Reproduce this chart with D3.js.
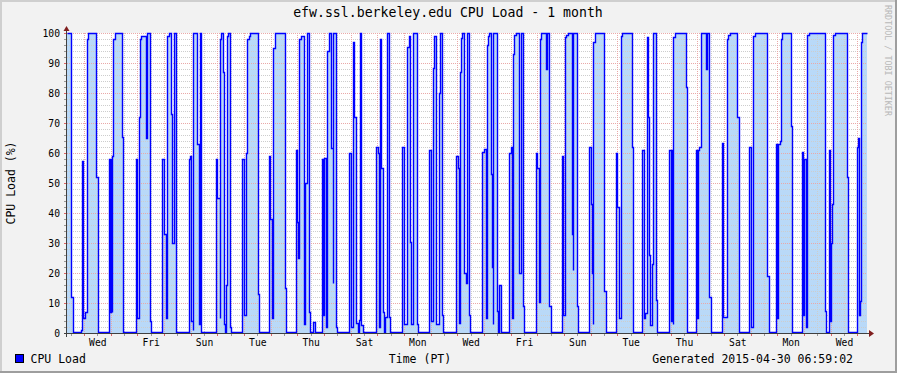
<!DOCTYPE html>
<html>
<head>
<meta charset="utf-8">
<script src="https://cdn.jsdelivr.net/npm/d3@7"></script>
<style>
  body { margin: 0; background: #f2f2f2; }
  svg { display: block; font-family: "DejaVu Sans Mono", monospace; }
</style>
</head>
<body>
<script>
// step series: hours since the window start, and the load from that moment on
const hoursFromStart = [
  0, 3.9, 5.1, 12.9, 13.8, 14.7, 15.9, 17.7, 18.3, 19.2, 26.4, 27.6,
  37.8, 38.7, 39.3, 40.2, 40.8, 41.4, 42.9, 49.8, 50.7,
  62.4, 63.3, 64.5, 65.7, 66.9, 71.4, 72.3, 74.4, 75.3,
  85.8, 87, 89.1, 90.3, 91.5, 93.9, 94.8, 96.3, 98.4,
  109.8, 110.7, 111.9, 113.1, 113.7, 117.3, 118.5, 118.8, 119.7, 121,
  134.4, 135.3, 137.4, 138, 138.9, 140.1, 141, 141.9, 143.1, 144, 144.9, 146.7, 147.3,
  157.8, 159, 161.4, 162.3, 163.5, 164.4, 171.9, 172.5,
  181.8, 182.7, 184.5, 185.7, 186.9, 195.9, 197.1,
  206.4, 207.3, 208.2, 209.1, 210.3, 213.3, 214.5, 215.7, 217.5, 218.7, 221.4, 222.9,
  229.8, 230.7, 231.3, 233.4, 234.3, 235.5, 237.9, 239.1, 239.7, 242.1, 243.3,
  254.1, 255.9, 257.4, 258.6, 260.4, 261.6, 262.8, 264, 264.9, 266.1,
  278.4, 279.6, 280.8, 282, 282.9, 284.1, 285.3, 286.5, 288, 289.5, 291,
  301.5, 303.6, 306.3, 307.5, 308.7, 309.9, 311.1, 311.7, 314.7, 315.9,
  326.1, 327.9, 329.4, 330.3, 332.1, 334.5, 335.1, 336, 337.5, 338.7,
  350.1, 351.6, 352.5, 353.1, 353.7, 354.9, 355.5, 357, 358.8, 360.3, 362.1, 363,
  373.5, 375.6, 377.1, 378, 378.9, 380.1, 381.3, 382.5, 383.1, 383.7, 386.7, 387.6, 389.1, 390.3,
  398.1, 399.6, 400.5, 401.4, 402.6, 404.1, 407.1, 408.3, 410.1, 411.3,
  422.1, 423.3, 424.5, 425.7, 426.9, 431.1, 432.3, 434.1, 435.3,
  445.5, 446.7, 447.9, 449.1, 450.6, 454.5, 455.1, 455.7, 458.7, 459.6,
  470.1, 471.3, 472.5, 473.1, 473.7, 474.9, 483.3, 485.1,
  494.1, 495.3, 497.1, 498.3, 499.2, 508.2, 509.1,
  517.8, 519, 519.9, 521.7, 523.2, 524.1, 525, 526.5, 527.7, 530.1, 531.3,
  542.1, 543.3, 544.2, 545.4, 545.7, 546.9, 557.1, 558.3,
  566.1, 567.3, 568.2, 569.1, 570.3, 575.1, 576.3, 578.1, 579.3,
  589.5, 590.7, 593.7, 594.9, 596.7, 603.3, 604.5,
  613.8, 615.3, 617.7, 618.9, 630.3, 631.5,
  638.1, 639.3, 640.2, 641.4, 642.3, 643.2, 651.3, 652.2,
  661.8, 662.7, 663.3, 665.1, 666.3, 667.8, 681.9, 683.1,
  685.8, 687, 687.9, 688.8, 689.7, 690.9, 701.7, 702.6,
  710.7, 711.6, 712.5, 713.4, 714.3, 715.5, 720
];
const cpuLoad = [
  100, 12, 0.3, 1, 57.5, 5, 7, 11, 98, 100, 52, 0.3,
  58, 7, 58, 7, 59, 98, 100, 65.5, 0.3,
  58, 5, 72, 98, 99, 65, 100, 4, 0.3,
  58, 33, 5, 99, 100, 73, 30, 100, 0.3,
  58, 59, 4, 1, 100, 63, 10, 3, 100, 0.3,
  58, 45, 5, 98, 100, 87, 3, 0.3, 16, 99, 100, 2, 0.3,
  58, 6, 60, 98, 99, 100, 13, 0.3,
  59, 38, 5, 95, 100, 15, 0.3,
  61, 37, 25, 98, 99, 3, 50, 100, 7, 0.3, 3.7, 0.3,
  58, 6, 58.5, 2, 94, 100, 61.7, 16.7, 100, 2, 0.3,
  60, 2, 97, 72, 3.3, 0.3, 4.4, 100, 2.8, 0.3,
  62, 60, 2, 98, 55, 7, 0.3, 5.5, 100, 5.5, 0.3,
  62, 3, 95.5, 99, 30.5, 3, 7.8, 100, 3, 0.3,
  61, 4, 88.5, 99, 3, 17, 80, 100, 6, 0.3,
  59, 55, 8, 3.3, 87, 98.3, 100, 20, 16.7, 100, 6, 0.3,
  60.5, 61.5, 5, 96, 99, 100, 53, 22, 3, 100, 7.4, 0.3, 16, 0.3,
  60, 62, 5, 93, 99.4, 100, 20, 100, 9, 0.3,
  60, 55, 10.5, 98, 100, 88, 100, 9, 0.3,
  59, 6, 98.6, 99.4, 100, 33, 21, 100, 9, 0.3,
  62, 43, 20, 3, 97, 100, 14, 0.3,
  60, 42, 5, 99, 100, 62, 0.3,
  61, 5, 6.7, 98.6, 72, 26, 2.8, 23, 100, 11, 0.3,
  61, 4, 61, 3, 98.6, 100, 82, 0.3,
  61, 5, 61, 62, 100, 88, 100, 12, 0.3,
  63.5, 5.5, 98, 99.4, 100, 72, 0.3,
  62, 2, 99, 100, 19, 0.3,
  63, 5, 63, 64, 98, 100, 69, 0.3,
  60.5, 6, 58, 2, 99.4, 100, 7.2, 0.3,
  61, 4, 30, 43, 99.4, 100, 52, 0.3,
  62, 65, 6, 10.6, 97, 100, 100
];
const yTickValues = [0, 10, 20, 30, 40, 50, 60, 70, 80, 90, 100];
const labelDays = ['2015-04-01', '2015-04-03', '2015-04-05', '2015-04-07', '2015-04-09',
  '2015-04-11', '2015-04-13', '2015-04-15', '2015-04-17', '2015-04-19', '2015-04-21',
  '2015-04-23', '2015-04-25', '2015-04-27', '2015-04-29'];
const dayLabels = ['Wed', 'Fri', 'Sun', 'Tue', 'Thu', 'Sat', 'Mon', 'Wed', 'Fri', 'Sun',
  'Tue', 'Thu', 'Sat', 'Mon', 'Wed'];

const windowStart = new Date('2015-03-31T08:42:00Z');
const windowEnd = new Date(+windowStart + 720 * 3600e3);

const width = 897, height = 373;
const plot = {left: 67, right: 867, top: 33, bottom: 333};
const px = v => Math.round(v) + 0.5;

const svg = d3.select('body').append('svg')
  .attr('width', width)
  .attr('height', height);

// background and shaded border
svg.append('rect').attr('width', width).attr('height', height).attr('fill', '#f2f2f2');
svg.append('rect').attr('x', 0).attr('y', 0).attr('width', width).attr('height', 2).attr('fill', '#cfcfcf');
svg.append('rect').attr('x', 0).attr('y', 0).attr('width', 2).attr('height', height).attr('fill', '#cfcfcf');
svg.append('rect').attr('x', 0).attr('y', height - 2).attr('width', width).attr('height', 2).attr('fill', '#9e9e9e');
svg.append('rect').attr('x', width - 2).attr('y', 0).attr('width', 2).attr('height', height).attr('fill', '#9e9e9e');

svg.append('rect')
  .attr('x', plot.left).attr('y', plot.top)
  .attr('width', plot.right - plot.left).attr('height', plot.bottom - plot.top)
  .attr('fill', '#ffffff');

const x = d3.scaleUtc().domain([windowStart, windowEnd]).range([plot.left, plot.right]);
const y = d3.scaleLinear().domain([0, 100]).range([plot.bottom, plot.top]);

const points = hoursFromStart.map((h, i) => ({t: new Date(+windowStart + h * 3600e3), v: cpuLoad[i]}));

const area = d3.area()
  .curve(d3.curveStepAfter)
  .x(d => Math.round(x(d.t)))
  .y0(plot.bottom)
  .y1(d => Math.round(y(d.v)));

svg.append('path')
  .datum(points)
  .attr('d', area)
  .attr('fill', '#b9d9f8');

// grid
const minorColor = '#cdcdcd', majorColor = '#eaa8a8';
const grid = svg.append('g').attr('stroke-width', 1).attr('stroke-dasharray', '1,1');

const halfDays = d3.utcHour.every(12).range(windowStart, windowEnd).filter(d => d.getUTCHours() !== 0);
const days = d3.utcDay.range(windowStart, windowEnd);
const minorY = d3.range(0, 101, 2).filter(v => v % 10 !== 0);

grid.selectAll('.vmin').data(halfDays).join('line')
  .attr('x1', d => px(x(d))).attr('x2', d => px(x(d)))
  .attr('y1', plot.top).attr('y2', plot.bottom)
  .attr('stroke', minorColor);
grid.selectAll('.hmin').data(minorY).join('line')
  .attr('x1', plot.left).attr('x2', plot.right)
  .attr('y1', d => px(y(d))).attr('y2', d => px(y(d)))
  .attr('stroke', minorColor);
grid.selectAll('.vmaj').data(days).join('line')
  .attr('x1', d => px(x(d))).attr('x2', d => px(x(d)))
  .attr('y1', plot.top).attr('y2', plot.bottom)
  .attr('stroke', majorColor);
grid.selectAll('.hmaj').data(yTickValues.slice(1)).join('line')
  .attr('x1', plot.left).attr('x2', plot.right)
  .attr('y1', d => px(y(d))).attr('y2', d => px(y(d)))
  .attr('stroke', majorColor);

const line = d3.line()
  .curve(d3.curveStepAfter)
  .x(d => px(x(d.t)))
  .y(d => px(y(d.v)));

svg.append('path')
  .datum(points)
  .attr('d', line)
  .attr('fill', 'none')
  .attr('stroke', '#0000ff')
  .attr('stroke-width', 1.4);

// small tick marks outside the plot
const ticks = svg.append('g').attr('stroke-width', 1);
ticks.selectAll('.xt').data(halfDays).join('line')
  .attr('x1', d => px(x(d))).attr('x2', d => px(x(d)))
  .attr('y1', plot.bottom).attr('y2', plot.bottom + 3)
  .attr('stroke', '#999999');
ticks.selectAll('.xT').data(days).join('line')
  .attr('x1', d => px(x(d))).attr('x2', d => px(x(d)))
  .attr('y1', plot.bottom).attr('y2', plot.bottom + 3)
  .attr('stroke', '#dd6666');
ticks.selectAll('.yt').data(minorY).join('line')
  .attr('x1', plot.left - 3).attr('x2', plot.left)
  .attr('y1', d => px(y(d))).attr('y2', d => px(y(d)))
  .attr('stroke', '#999999');
ticks.selectAll('.yT').data(yTickValues).join('line')
  .attr('x1', plot.left - 3).attr('x2', plot.left)
  .attr('y1', d => px(y(d))).attr('y2', d => px(y(d)))
  .attr('stroke', '#dd6666');

// axis lines with arrows
svg.append('line')
  .attr('x1', plot.left - 3).attr('x2', plot.right + 3)
  .attr('y1', plot.bottom + 0.5).attr('y2', plot.bottom + 0.5)
  .attr('stroke', '#404040');
svg.append('line')
  .attr('x1', plot.left - 0.5).attr('x2', plot.left - 0.5)
  .attr('y1', plot.bottom + 4).attr('y2', plot.top - 2)
  .attr('stroke', '#404040');
svg.append('path')
  .attr('d', `M${plot.right + 2},${plot.bottom - 3}L${plot.right + 7},${plot.bottom + 0.5}L${plot.right + 2},${plot.bottom + 4}Z`)
  .attr('fill', '#801f1f');
svg.append('path')
  .attr('d', `M${plot.left - 3.5},${plot.top - 2}L${plot.left - 0.5},${plot.top - 7}L${plot.left + 2.5},${plot.top - 2}Z`)
  .attr('fill', '#801f1f');

// axis labels
const xAxis = d3.axisBottom(x)
  .tickValues(labelDays.map(d => new Date(d + 'T12:00:00Z')))
  .tickFormat((d, i) => dayLabels[i])
  .tickSize(0)
  .tickPadding(6);
const gx = svg.append('g')
  .attr('transform', `translate(0,${plot.bottom})`)
  .call(xAxis);
gx.select('.domain').remove();
gx.selectAll('text').attr('font-family', '"DejaVu Sans Mono"').attr('font-size', '9.7px').attr('fill', '#000');

const yAxis = d3.axisLeft(y).tickValues(yTickValues).tickSize(0).tickPadding(7);
const gy = svg.append('g')
  .attr('transform', `translate(${plot.left},0)`)
  .call(yAxis);
gy.select('.domain').remove();
gy.selectAll('text').attr('font-family', '"DejaVu Sans Mono"').attr('font-size', '9.7px').attr('fill', '#000');

// texts
svg.append('text')
  .attr('x', 448).attr('y', 17)
  .attr('text-anchor', 'middle')
  .attr('font-size', '13.2px')
  .text('efw.ssl.berkeley.edu CPU Load - 1 month');

svg.append('text')
  .attr('transform', 'translate(15,183) rotate(-90)')
  .attr('text-anchor', 'middle')
  .attr('font-size', '11.5px')
  .text('CPU Load (%)');

svg.append('text')
  .attr('transform', 'translate(885,5) rotate(90)')
  .attr('font-size', '8.4px')
  .attr('fill', '#b8b8b8')
  .text('RRDTOOL / TOBI OETIKER');

svg.append('rect')
  .attr('x', 15.5).attr('y', 354.5).attr('width', 8).attr('height', 8)
  .attr('fill', '#0000ff').attr('stroke', '#000');
svg.append('text')
  .attr('x', 30.5).attr('y', 363)
  .attr('font-size', '11.5px')
  .text('CPU Load');
svg.append('text')
  .attr('x', 420).attr('y', 363)
  .attr('text-anchor', 'middle')
  .attr('font-size', '11.5px')
  .text('Time (PT)');
svg.append('text')
  .attr('x', 853).attr('y', 363)
  .attr('text-anchor', 'end')
  .attr('font-size', '11.5px')
  .text('Generated 2015-04-30 06:59:02');
</script>
</body>
</html>
